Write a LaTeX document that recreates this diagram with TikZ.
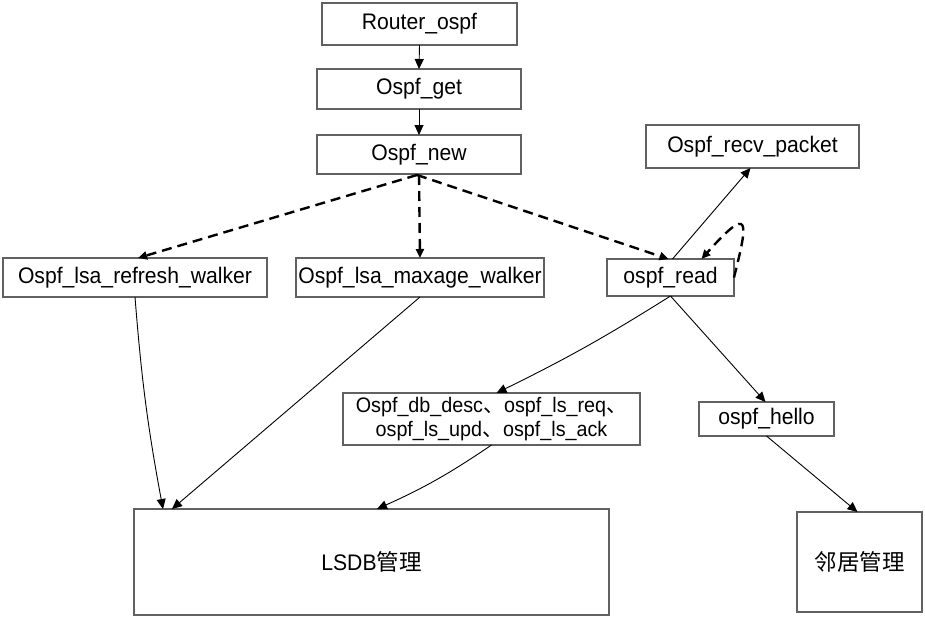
\documentclass[tikz,border=0pt]{standalone}
\usepackage{fontspec}
\setmainfont{Liberation Sans}[FakeStretch=0.94]
\newfontfamily\cjk{Noto Sans CJK SC}
\usetikzlibrary{arrows.meta,calc}
\tikzset{
  box/.style={draw=black!62, line width=1.2pt, fill=white, inner sep=0pt, outer sep=0pt,
    font=\fontsize{22.5}{26}\selectfont, align=center},
  conn/.style={draw=black, line width=0.9pt, -{Triangle[length=10pt,width=9pt]}},
  dconn/.style={draw=black, line width=2.4pt, dash pattern=on 10pt off 6pt,
    -{Triangle[length=9pt,width=8pt]}},
}
\begin{document}
\begin{tikzpicture}[x=1pt,y=-1pt]
\useasboundingbox (0,0) rectangle (925,618);
\node[box, minimum width=195pt, minimum height=42pt] (router) at (419.5,24) {Router\_ospf};
\node[box, minimum width=204pt, minimum height=40pt] (get) at (419,89) {Ospf\_get};
\node[box, minimum width=204pt, minimum height=39pt] (new) at (419,154.5) {Ospf\_new};
\node[box, minimum width=213pt, minimum height=43pt] (recv) at (752.5,146.5) {Ospf\_recv\_packet};
\node[box, minimum width=264pt, minimum height=39pt] (refresh) at (135,277.5) {Ospf\_lsa\_refresh\_walker};
\node[box, minimum width=248pt, minimum height=39pt] (maxage) at (420,277.5) {Ospf\_lsa\_maxage\_walker};
\node[box, minimum width=127pt, minimum height=37pt] (read) at (670.5,277.5) {ospf\_read};
\node[box, minimum width=297pt, minimum height=52pt, font=\fontsize{21}{24}\selectfont] (db) at (491.5,419)
  {Ospf\_db\_desc{\cjk 、}ospf\_ls\_req{\cjk 、}\\ospf\_ls\_upd{\cjk 、}ospf\_ls\_ack};
\node[box, minimum width=135pt, minimum height=34pt] (hello) at (766.5,419) {ospf\_hello};
\node[box, minimum width=475pt, minimum height=106pt] (lsdb) at (371.5,562) {LSDB{\cjk 管理}};
\node[box, minimum width=125pt, minimum height=100pt] (nbr) at (859.5,562) {\cjk 邻居管理};

\draw[conn] (router.south) -- (get.north);
\draw[conn] (get.south) -- (new.north);
\draw[dconn] ($(new.south)+(-2,1)$) -- ($(refresh.north)+(3,0)$);
\draw[dconn] ($(new.south)+(0,1)$) -- (maxage.north);
\draw[dconn] ($(new.south)+(-2,1)$) -- ($(read.north)+(-2,0)$);
\draw[conn] ($(read.north)+(2,0)$) -- ($(recv.south)+(-2,0)$);
\draw[dconn] (read.east) .. controls +(14,-56) and +(50,-56) .. ($(read.north)+(31,0)$);
\draw[conn] (read.south) to[bend left=3] ($(db.north)+(5,0)$);
\draw[conn] (read.south) -- ($(hello.north)+(-1,0)$);
\draw[conn] (refresh.south) to[bend right=3] ($(lsdb.north west)+(29,0)$);
\draw[conn] (maxage.south) -- ($(lsdb.north west)+(38,0)$);
\draw[conn] (db.south) to[bend left=5] ($(lsdb.north west)+(243,0)$);
\draw[conn] (hello.south) -- ($(nbr.north)+(-2,0)$);
\end{tikzpicture}
\end{document}
